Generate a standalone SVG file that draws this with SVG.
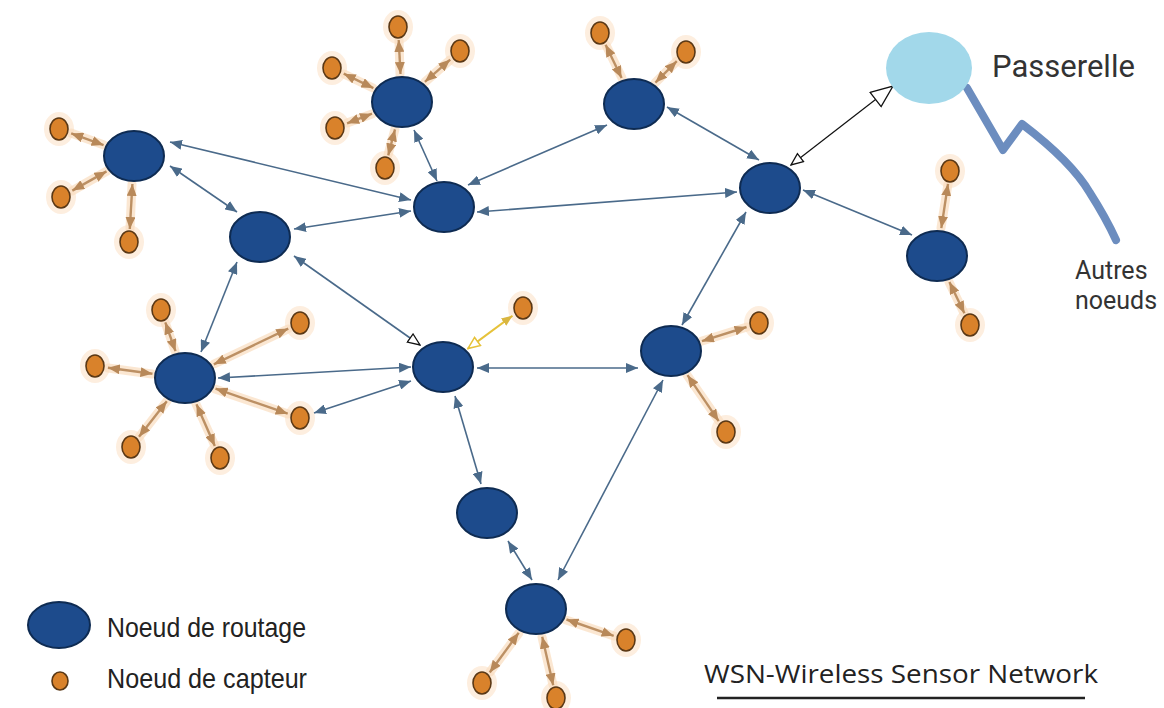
<svg xmlns="http://www.w3.org/2000/svg" width="1164" height="708" viewBox="0 0 1164 708">
<style>
.rt{fill:#1D4B8C;stroke:#0E2B52;stroke-width:2}
.sn{fill:#D9822B;stroke:#5A3815;stroke-width:1.6}
.halo{fill:#FCE7D2;opacity:0.7}
.bl{stroke:#4A6A8A;stroke-width:1.6;fill:none;marker-start:url(#hb);marker-end:url(#hb)}
.br{stroke:#BC9064;stroke-width:2.4;fill:none;marker-start:url(#hr);marker-end:url(#hr)}
.glow{stroke:#F9DDBF;stroke-width:9;fill:none;opacity:0.7;stroke-linecap:round}
.t1{font-family:"Liberation Sans",Arial,sans-serif;fill:#222}
.t2{font-family:Roboto,"Liberation Sans",sans-serif;fill:#333}
</style>
<defs>
<marker id="hb" viewBox="0 0 12 10" refX="12" refY="5" markerWidth="12" markerHeight="10" markerUnits="userSpaceOnUse" orient="auto-start-reverse"><path d="M0,0 L12,5 L0,10 z" fill="#4A6A8A"/></marker>
<marker id="hr" viewBox="0 0 12 10" refX="12" refY="5" markerWidth="12" markerHeight="10" markerUnits="userSpaceOnUse" orient="auto-start-reverse"><path d="M0,0 L12,5 L0,10 z" fill="#B8895A"/></marker>
<marker id="hkL" viewBox="0 0 24 20" refX="23" refY="10" markerWidth="24" markerHeight="20" markerUnits="userSpaceOnUse" orient="auto-start-reverse"><path d="M1,1 L23,10 L1,19 z" fill="#fff" stroke="#111" stroke-width="1.3"/></marker>
<marker id="hkS" viewBox="0 0 14 12" refX="13" refY="6" markerWidth="14" markerHeight="12" markerUnits="userSpaceOnUse" orient="auto-start-reverse"><path d="M1,1 L13,6 L1,11 z" fill="#fff" stroke="#111" stroke-width="1.3"/></marker>
<marker id="hyO" viewBox="0 0 14 12" refX="13" refY="6" markerWidth="14" markerHeight="12" markerUnits="userSpaceOnUse" orient="auto-start-reverse"><path d="M1,1 L13,6 L1,11 z" fill="#fff" stroke="#E6C23A" stroke-width="1.5"/></marker>
<marker id="hyF" viewBox="0 0 11 9" refX="11" refY="4.5" markerWidth="11" markerHeight="9" markerUnits="userSpaceOnUse" orient="auto-start-reverse"><path d="M0,0 L11,4.5 L0,9 z" fill="#D9B640"/></marker>
</defs>
<rect width="1164" height="708" fill="#fff"/>

<g id="sensor-halos">
<ellipse class="halo" cx="59" cy="129" rx="15" ry="17"/><ellipse class="halo" cx="61" cy="197" rx="15" ry="17"/><ellipse class="halo" cx="129" cy="242" rx="15" ry="17"/>
<ellipse class="halo" cx="398" cy="27" rx="15" ry="17"/><ellipse class="halo" cx="460" cy="51" rx="15" ry="17"/><ellipse class="halo" cx="332" cy="68" rx="15" ry="17"/><ellipse class="halo" cx="335" cy="128" rx="15" ry="17"/><ellipse class="halo" cx="385" cy="168" rx="15" ry="17"/>
<ellipse class="halo" cx="600" cy="33" rx="15" ry="17"/><ellipse class="halo" cx="686" cy="52" rx="15" ry="17"/>
<ellipse class="halo" cx="950" cy="171" rx="15" ry="17"/><ellipse class="halo" cx="970" cy="325" rx="15" ry="17"/>
<ellipse class="halo" cx="161" cy="310" rx="15" ry="17"/><ellipse class="halo" cx="95" cy="366" rx="15" ry="17"/><ellipse class="halo" cx="300" cy="323" rx="15" ry="17"/><ellipse class="halo" cx="300" cy="418" rx="15" ry="17"/><ellipse class="halo" cx="131" cy="447" rx="15" ry="17"/><ellipse class="halo" cx="220" cy="458" rx="15" ry="17"/>
<ellipse class="halo" cx="523" cy="308" rx="15" ry="17"/>
<ellipse class="halo" cx="759" cy="323" rx="15" ry="17"/><ellipse class="halo" cx="726" cy="432" rx="15" ry="17"/>
<ellipse class="halo" cx="626" cy="640" rx="15" ry="17"/><ellipse class="halo" cx="482" cy="683" rx="15" ry="17"/><ellipse class="halo" cx="556" cy="698" rx="15" ry="17"/>
</g>

<g id="connectors">
<g id="sensor-links">
<path class="glow" d="M71,133 L104,145 M72,191 L107,171 M130,229 L132,184 M399,40 L400,74 M450,60 L425,82 M344,74 L373,88 M347,123 L372,114 M388,155 L395,129 M606,45 L622,78 M677,61 L655,83 M948,184 L941,228 M964,313 L949,282 M165,322 L175,351 M108,368 L152,374 M288,329 L214,364 M288,414 L215,389 M139,437 L167,401 M215,446 L196,404 M747,327 L702,341 M719,421 L687,375 M614,636 L566,620 M490,672 L519,633 M553,685 L542,637"/>
<path class="br" d="M71.2,133.4 L103.6,145.1"/>
<path class="br" d="M72.3,190.6 L106.5,171.4"/>
<path class="br" d="M129.8,229 L132.4,184"/>
<path class="br" d="M398.7,40 L400.5,74"/>
<path class="br" d="M450.2,59.6 L424.9,81.8"/>
<path class="br" d="M343.7,73.7 L373.4,88.1"/>
<path class="br" d="M347.1,123.3 L372,113.7"/>
<path class="br" d="M388.2,155.4 L395,129.4"/>
<path class="br" d="M605.6,44.7 L621.6,78"/>
<path class="br" d="M676.8,61.2 L655.4,82.6"/>
<path class="br" d="M948,183.9 L941.3,228.1"/>
<path class="br" d="M964.4,313.3 L949.4,282"/>
<path class="br" d="M165.3,322.3 L175.5,351.2"/>
<path class="br" d="M107.9,367.7 L152.5,373.7"/>
<path class="br" d="M288.3,328.6 L213.8,364.3"/>
<path class="br" d="M287.7,413.7 L215.5,388.6"/>
<path class="br" d="M139,436.8 L166.8,401.3"/>
<path class="br" d="M214.8,446.1 L196.5,404.2"/>
<path class="br" d="M746.6,327 L701.9,341.2"/>
<path class="br" d="M718.7,421.2 L687.5,375.2"/>
<path class="br" d="M613.7,635.8 L566.5,619.5"/>
<path class="br" d="M489.7,672.5 L518.7,632.8"/>
<path class="br" d="M553.2,685.3 L542.2,636.7"/>
<path d="M512.5,315.7 L467.9,348.6" stroke="#E6C23A" stroke-width="2" fill="none" marker-start="url(#hyF)" marker-end="url(#hyO)"/>
</g>
<g id="routing-links">
<path class="bl" d="M170,142 L411,200"/>
<path class="bl" d="M170,166 L237,212"/>
<path class="bl" d="M414,130 L437,181"/>
<path class="bl" d="M411,211 L294,229"/>
<path class="bl" d="M477,212 L737,192"/>
<path class="bl" d="M468,185 L607,125"/>
<path class="bl" d="M667,107 L759,160"/>
<path class="bl" d="M803,190 L912,235"/>
<path class="bl" d="M746,212 L682,325"/>
<path class="bl" d="M237,262 L201,352"/>
<path d="M294,256 L420,345" stroke="#4A6A8A" stroke-width="1.6" fill="none" marker-start="url(#hb)" marker-end="url(#hkS)"/>
<path class="bl" d="M218,378 L411,367"/>
<path class="bl" d="M314,413 L411,381"/>
<path class="bl" d="M477,368 L638,368"/>
<path class="bl" d="M455,396 L481,484"/>
<path class="bl" d="M508,541 L532,580"/>
<path class="bl" d="M663,380 L558,580"/>
</g>
<path id="gateway-link" d="M791,165 L893,86" stroke="#111" stroke-width="1.2" fill="none" marker-start="url(#hkS)" marker-end="url(#hkL)"/>
<path id="uplink" d="M967,88 L1003,150 L1022,124 Q1072,162 1090,193 Q1106,218 1116,240" stroke="#6C8DBF" stroke-width="8" fill="none" stroke-linecap="round" stroke-linejoin="round"/>
</g>

<g id="gateway"><ellipse cx="929" cy="68" rx="43" ry="36" fill="#A2D8EA"/><text class="t2" x="992" y="77" font-size="31">Passerelle</text></g>
<g id="other-nodes-label"><text class="t2" x="1075" y="279" font-size="25">Autres</text><text class="t2" x="1075" y="309" font-size="25">noeuds</text></g>

<g id="routing-nodes">
<g id="R1"><ellipse class="rt" cx="134" cy="156" rx="30" ry="25"/></g>
<g id="R2"><ellipse class="rt" cx="402" cy="102" rx="30" ry="25"/></g>
<g id="R3"><ellipse class="rt" cx="634" cy="104" rx="30" ry="25"/></g>
<g id="R4"><ellipse class="rt" cx="444" cy="207" rx="30" ry="25"/></g>
<g id="R5"><ellipse class="rt" cx="260" cy="237" rx="30" ry="25"/></g>
<g id="R6"><ellipse class="rt" cx="770" cy="188" rx="30" ry="25"/></g>
<g id="R7"><ellipse class="rt" cx="937" cy="256" rx="30" ry="25"/></g>
<g id="R8"><ellipse class="rt" cx="185" cy="378" rx="30" ry="25"/></g>
<g id="R9"><ellipse class="rt" cx="443" cy="367" rx="30" ry="25"/></g>
<g id="R10"><ellipse class="rt" cx="671" cy="351" rx="30" ry="25"/></g>
<g id="R11"><ellipse class="rt" cx="487" cy="513" rx="30" ry="25"/></g>
<g id="R12"><ellipse class="rt" cx="536" cy="609" rx="30" ry="25"/></g>
</g>

<g id="sensor-nodes">
<g id="S1"><ellipse class="sn" cx="59" cy="129" rx="9" ry="11"/></g>
<g id="S2"><ellipse class="sn" cx="61" cy="197" rx="9" ry="11"/></g>
<g id="S3"><ellipse class="sn" cx="129" cy="242" rx="9" ry="11"/></g>
<g id="S4"><ellipse class="sn" cx="398" cy="27" rx="9" ry="11"/></g>
<g id="S5"><ellipse class="sn" cx="460" cy="51" rx="9" ry="11"/></g>
<g id="S6"><ellipse class="sn" cx="332" cy="68" rx="9" ry="11"/></g>
<g id="S7"><ellipse class="sn" cx="335" cy="128" rx="9" ry="11"/></g>
<g id="S8"><ellipse class="sn" cx="385" cy="168" rx="9" ry="11"/></g>
<g id="S9"><ellipse class="sn" cx="600" cy="33" rx="9" ry="11"/></g>
<g id="S10"><ellipse class="sn" cx="686" cy="52" rx="9" ry="11"/></g>
<g id="S11"><ellipse class="sn" cx="950" cy="171" rx="9" ry="11"/></g>
<g id="S12"><ellipse class="sn" cx="970" cy="325" rx="9" ry="11"/></g>
<g id="S13"><ellipse class="sn" cx="161" cy="310" rx="9" ry="11"/></g>
<g id="S14"><ellipse class="sn" cx="95" cy="366" rx="9" ry="11"/></g>
<g id="S15"><ellipse class="sn" cx="300" cy="323" rx="9" ry="11"/></g>
<g id="S16"><ellipse class="sn" cx="300" cy="418" rx="9" ry="11"/></g>
<g id="S17"><ellipse class="sn" cx="131" cy="447" rx="9" ry="11"/></g>
<g id="S18"><ellipse class="sn" cx="220" cy="458" rx="9" ry="11"/></g>
<g id="S19"><ellipse class="sn" cx="523" cy="308" rx="9" ry="11"/></g>
<g id="S20"><ellipse class="sn" cx="759" cy="323" rx="9" ry="11"/></g>
<g id="S21"><ellipse class="sn" cx="726" cy="432" rx="9" ry="11"/></g>
<g id="S22"><ellipse class="sn" cx="626" cy="640" rx="9" ry="11"/></g>
<g id="S23"><ellipse class="sn" cx="482" cy="683" rx="9" ry="11"/></g>
<g id="S24"><ellipse class="sn" cx="556" cy="698" rx="9" ry="11"/></g>
</g>

<g id="legend">
<ellipse class="rt" cx="59" cy="625" rx="31" ry="23"/>
<text class="t1" x="107" y="637" font-size="28" textLength="199" lengthAdjust="spacingAndGlyphs">Noeud de routage</text>
<ellipse class="sn" cx="60" cy="681" rx="8" ry="9"/>
<text class="t1" x="107" y="688" font-size="28" textLength="200" lengthAdjust="spacingAndGlyphs">Noeud de capteur</text>
</g>

<g id="title">
<text x="704" y="683" font-family="'Open Sans','Liberation Sans',sans-serif" font-size="26" fill="#222" textLength="394" lengthAdjust="spacingAndGlyphs">WSN-Wireless Sensor Network</text>
<line x1="717" y1="698" x2="1085" y2="698" stroke="#222" stroke-width="2.5"/>
</g>
</svg>
